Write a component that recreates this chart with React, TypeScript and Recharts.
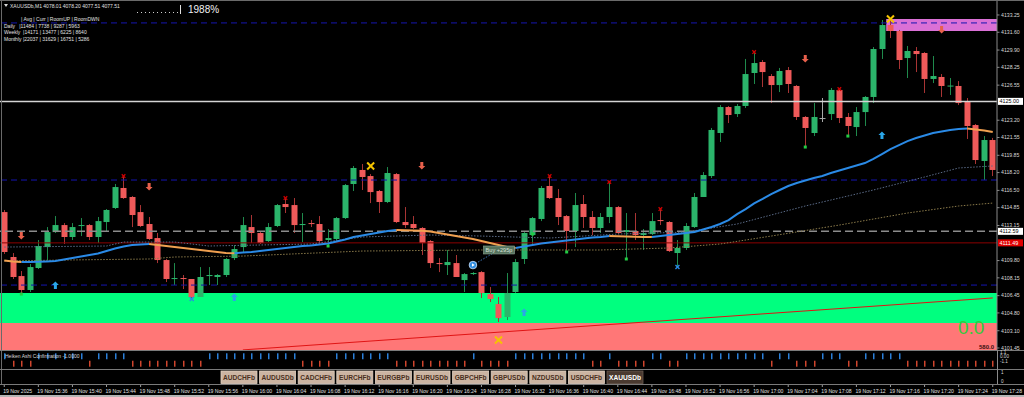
import React from "react"
import { ComposedChart, Bar, Line, XAxis, YAxis, ReferenceLine, ReferenceArea, ReferenceDot } from "recharts"

const FONT = "'Liberation Sans', Arial, sans-serif"

// one M1 bar per minute, 15:32 .. 17:28
const minutes = Array.from({ length: 117 }, (_, i) => {
  const m = 32 + i
  return `${15 + Math.floor(m / 60)}:${String(m % 60).padStart(2, "0")}`
})

const tickLabels = [
  "19 Nov 2025", "19 Nov 15:36", "19 Nov 15:40", "19 Nov 15:44", "19 Nov 15:48", "19 Nov 15:52",
  "19 Nov 15:56", "19 Nov 16:00", "19 Nov 16:04", "19 Nov 16:08", "19 Nov 16:12", "19 Nov 16:16",
  "19 Nov 16:20", "19 Nov 16:24", "19 Nov 16:28", "19 Nov 16:32", "19 Nov 16:36", "19 Nov 16:40",
  "19 Nov 16:44", "19 Nov 16:48", "19 Nov 16:52", "19 Nov 16:56", "19 Nov 17:00", "19 Nov 17:04",
  "19 Nov 17:08", "19 Nov 17:12", "19 Nov 17:16", "19 Nov 17:20", "19 Nov 17:24", "19 Nov 17:28",
]

const opens = [
  4114.43, 4110.14, 4108.32, 4106.99, 4109.09, 4111.09, 4112.52, 4113.19, 4112.05, 4113.10,
  4113.19, 4112.05, 4113.48, 4114.82, 4116.73, 4115.87, 4114.43, 4113.29, 4111.95, 4109.85,
  4108.04, 4108.13, 4108.04, 4106.32, 4108.32, 4108.23, 4108.42, 4110.04, 4111.09, 4113.00,
  4112.43, 4111.66, 4113.10, 4115.20, 4115.10, 4113.19, 4113.38, 4113.29, 4111.76, 4111.86,
  4113.86, 4117.11, 4118.45, 4117.87, 4116.44, 4115.39, 4118.06, 4113.48, 4113.29, 4112.91,
  4111.66, 4109.56, 4109.37, 4109.56, 4107.94, 4108.51, 4108.70, 4106.60, 4105.65, 4104.41,
  4106.80, 4109.95, 4112.24, 4113.77, 4116.92, 4115.77, 4114.05, 4112.62, 4115.20, 4113.96,
  4112.91, 4113.96, 4114.91, 4112.52, 4112.62, 4112.24, 4112.33, 4113.67, 4113.48, 4110.52,
  4111.00, 4113.00, 4115.87, 4117.87, 4121.98, 4124.46, 4123.79, 4124.56, 4127.71, 4128.76,
  4127.42, 4126.56, 4127.99, 4126.47, 4123.51, 4121.98, 4123.41, 4123.79, 4126.09, 4123.51,
  4122.55, 4123.98, 4125.42, 4130.00, 4132.29, 4131.72, 4129.14, 4129.81, 4129.62, 4127.14,
  4127.33, 4126.42, 4126.47, 4124.94, 4122.74, 4119.31, 4121.31,
]
const highs = [
  4114.63, 4110.52, 4108.80, 4109.47, 4111.76, 4113.00, 4114.05, 4113.38, 4113.38, 4113.86,
  4113.29, 4113.96, 4114.72, 4117.11, 4117.78, 4115.96, 4115.10, 4113.96, 4112.43, 4109.95,
  4109.56, 4108.42, 4108.04, 4109.18, 4109.18, 4108.51, 4110.04, 4111.28, 4113.96, 4114.15,
  4112.62, 4113.38, 4115.20, 4115.68, 4115.77, 4114.34, 4113.67, 4114.05, 4112.81, 4113.96,
  4117.11, 4118.83, 4119.02, 4118.06, 4116.54, 4118.73, 4118.16, 4114.91, 4114.05, 4113.00,
  4111.76, 4110.04, 4110.81, 4110.33, 4108.61, 4108.70, 4108.80, 4107.27, 4106.32, 4108.61,
  4109.95, 4112.52, 4113.96, 4116.92, 4117.78, 4116.63, 4114.15, 4116.25, 4116.06, 4114.53,
  4114.34, 4117.30, 4115.01, 4114.34, 4114.34, 4112.81, 4114.34, 4114.82, 4113.57, 4111.76,
  4113.38, 4116.25, 4118.25, 4122.46, 4124.65, 4124.56, 4124.75, 4129.05, 4129.62, 4128.95,
  4127.61, 4128.19, 4128.28, 4126.56, 4123.60, 4124.84, 4125.32, 4126.28, 4126.28, 4123.89,
  4124.46, 4125.51, 4130.19, 4132.77, 4132.77, 4131.82, 4130.29, 4130.19, 4129.71, 4129.33,
  4127.61, 4127.23, 4126.94, 4125.32, 4122.84, 4121.69, 4121.51,
]
const lows = [
  4110.43, 4108.04, 4106.70, 4106.80, 4108.99, 4109.85, 4112.43, 4111.38, 4111.76, 4112.14,
  4111.76, 4111.47, 4112.62, 4114.72, 4115.68, 4113.00, 4113.00, 4111.76, 4109.56, 4107.75,
  4107.46, 4107.08, 4106.13, 4106.32, 4107.46, 4107.46, 4108.23, 4109.85, 4110.62, 4111.47,
  4111.38, 4111.57, 4113.00, 4114.34, 4112.43, 4111.57, 4113.00, 4111.28, 4111.09, 4111.76,
  4113.77, 4116.44, 4116.54, 4115.29, 4114.34, 4115.29, 4113.38, 4112.91, 4112.81, 4110.33,
  4109.09, 4108.70, 4108.42, 4108.23, 4106.80, 4108.42, 4106.22, 4105.84, 4103.93, 4104.12,
  4106.70, 4109.47, 4111.28, 4113.57, 4115.68, 4113.19, 4110.62, 4111.09, 4112.91, 4112.24,
  4112.43, 4113.38, 4112.33, 4109.95, 4111.76, 4110.81, 4112.24, 4113.19, 4110.62, 4109.18,
  4110.81, 4112.91, 4115.87, 4117.68, 4121.12, 4122.93, 4123.51, 4124.37, 4126.66, 4126.37,
  4124.84, 4125.89, 4125.80, 4123.22, 4120.74, 4121.69, 4123.03, 4123.22, 4122.93, 4121.79,
  4121.69, 4122.65, 4124.84, 4129.05, 4131.05, 4128.09, 4127.23, 4127.80, 4125.80, 4126.75,
  4125.42, 4125.61, 4124.65, 4121.41, 4119.02, 4117.49, 4117.87,
]
const closes = [
  4110.62, 4108.23, 4106.99, 4109.18, 4111.19, 4112.52, 4113.19, 4112.05, 4113.00, 4113.19,
  4112.05, 4113.57, 4114.63, 4116.82, 4115.77, 4114.15, 4113.10, 4111.86, 4109.85, 4108.04,
  4108.13, 4108.04, 4106.32, 4108.23, 4108.42, 4108.42, 4109.95, 4110.90, 4113.19, 4112.43,
  4111.47, 4113.00, 4115.10, 4114.91, 4113.19, 4113.29, 4113.29, 4111.66, 4111.95, 4113.86,
  4117.01, 4118.64, 4117.78, 4116.34, 4115.39, 4118.16, 4113.48, 4113.19, 4112.91, 4111.47,
  4109.56, 4109.47, 4109.66, 4108.23, 4108.51, 4108.61, 4106.70, 4106.13, 4104.31, 4106.70,
  4109.66, 4112.43, 4113.86, 4116.73, 4115.77, 4113.96, 4112.62, 4115.10, 4113.96, 4112.91,
  4113.96, 4114.91, 4112.43, 4112.71, 4112.24, 4112.43, 4113.57, 4113.57, 4110.71, 4111.00,
  4113.10, 4115.87, 4117.97, 4122.27, 4124.46, 4123.70, 4124.56, 4127.61, 4128.66, 4127.80,
  4126.56, 4127.90, 4126.66, 4123.51, 4122.46, 4123.51, 4123.41, 4126.09, 4123.41, 4122.65,
  4123.98, 4125.42, 4130.00, 4132.29, 4131.72, 4128.95, 4129.81, 4129.52, 4127.14, 4127.42,
  4126.47, 4126.51, 4124.84, 4122.65, 4119.40, 4121.31, 4118.45,
]

// fast MA, drawn blue when rising and orange when falling
const ma = [
  4109.80, 4109.71, 4109.66, 4109.67, 4109.69, 4109.72, 4109.76, 4109.90, 4110.04, 4110.18,
  4110.33, 4110.47, 4110.71, 4110.95, 4111.14, 4111.28, 4111.33, 4111.38, 4111.28, 4111.19,
  4111.09, 4111.00, 4110.90, 4110.81, 4110.71, 4110.62, 4110.52, 4110.50, 4110.57, 4110.62,
  4110.71, 4110.81, 4110.90, 4111.00, 4111.09, 4111.19, 4111.23, 4111.33, 4111.43, 4111.62,
  4111.81, 4112.05, 4112.19, 4112.33, 4112.48, 4112.62, 4112.71, 4112.69, 4112.67, 4112.64,
  4112.57, 4112.43, 4112.29, 4112.14, 4112.00, 4111.86, 4111.66, 4111.47, 4111.28, 4111.09,
  4111.00, 4111.14, 4111.28, 4111.43, 4111.52, 4111.62, 4111.71, 4111.81, 4111.90, 4112.00,
  4112.05, 4112.14, 4112.12, 4112.10, 4112.08, 4112.06, 4112.05, 4112.14, 4112.24, 4112.33,
  4112.43, 4112.52, 4112.76, 4113.00, 4113.29, 4113.67, 4114.24, 4114.72, 4115.25, 4115.68,
  4116.15, 4116.54, 4116.92, 4117.20, 4117.44, 4117.68, 4117.87, 4118.16, 4118.40, 4118.64,
  4118.87, 4119.11, 4119.50, 4119.97, 4120.45, 4120.83, 4121.21, 4121.50, 4121.74, 4121.98,
  4122.12, 4122.27, 4122.36, 4122.41, 4122.31, 4122.22, 4122.07,
]

// slower averages, read at a few bars: [bar, price]
const midKnots: [number, number][] = [
  [0, 4111.09], [12, 4111.19], [14, 4111.57], [20, 4111.57], [24, 4111.19], [36, 4111.38],
  [42, 4112.05], [50, 4112.24], [56, 4112.14], [64, 4111.95], [72, 4112.33], [80, 4112.52],
  [86, 4113.29], [94, 4115.01], [97, 4115.58], [102, 4116.54], [108, 4117.78], [112, 4118.64], [116, 4118.83],
]
const slowKnots: [number, number][] = [
  [0, 4109.76], [7, 4109.85], [17, 4109.95], [20, 4110.14], [28, 4110.23], [42, 4110.71],
  [56, 4110.81], [70, 4110.81], [78, 4111.00], [84, 4111.38], [90, 4112.14], [98, 4113.19],
  [106, 4114.34], [112, 4115.01], [116, 4115.29],
]

const downArrows: [number, number][] = [[2, 4112.14], [17, 4116.82], [49, 4118.83], [94, 4129.05], [110, 4131.82]]
const upArrows: [number, number][] = [[6, 4107.46], [27, 4106.32], [61, 4104.88], [103, 4121.79]]
const yellowCrosses: [number, number][] = [[43, 4118.83], [58, 4102.21], [104, 4132.87]]
const redCrosses: [number, number][] = [[14, 4117.87], [33, 4115.77], [64, 4117.87], [71, 4117.30], [77, 4114.72], [88, 4129.71], [98, 4126.18]]
const greenSquares: [number, number][] = [[2, 4106.60], [38, 4111.19], [62, 4112.33], [66, 4110.62], [73, 4109.95], [94, 4120.64], [99, 4121.69]]
const blueCrosses: [number, number][] = [[22, 4106.13], [79, 4109.18]]

// Heiken Ashi confirmation: 1 = up (blue), -1 = down (red)
const haDir = [
  1, -1, -1, -1, 1, 1, 1, 1, 1, 1,
  -1, 1, 1, 1, 1, -1, -1, -1, -1, -1,
  -1, -1, -1, -1, 1, 1, 1, 1, 1, 1,
  1, 1, 1, 1, 1, -1, -1, -1, -1, 1,
  1, 1, 1, 1, 1, 1, -1, -1, -1, -1,
  -1, -1, -1, -1, -1, 1, -1, -1, -1, -1,
  1, 1, 1, 1, 1, 1, 1, 1, 1, -1,
  -1, 1, -1, -1, -1, -1, 1, 1, -1, -1,
  1, 1, 1, 1, 1, 1, 1, 1, 1, 1,
  -1, 1, 1, -1, -1, -1, 1, 1, 1, -1,
  -1, 1, 1, 1, 1, 1, -1, -1, -1, -1,
  -1, -1, -1, -1, -1, -1, -1,
]
const haUpLevel = [0.09, 0.82]
const haDnLevel = [-0.82, -0.09]

const priceTicks = [
  4133.25, 4131.6, 4129.9, 4128.25, 4126.55, 4123.2, 4121.55, 4119.85, 4118.2, 4116.5,
  4114.85, 4113.15, 4109.8, 4108.15, 4106.45, 4104.8, 4103.1, 4101.45,
]
const priceTags = [
  { price: 4125.0, bg: "#ffffff", fg: "#000000" },
  { price: 4112.59, bg: "#ffffff", fg: "#000000" },
  { price: 4111.49, bg: "#e00000", fg: "#ffffff" },
]

const statsHeader = "| Avg | Curr | RoomUP | RoomDWN"
const statsRows = [
  "Daily   |11484 | 7738 | 9287 | 5963",
  "Weekly  |14171 | 13477 | 6225 | 8640",
  "Monthly |22037 | 31629 | 16751 | 5286",
]
const symbols = ["AUDCHFb", "AUDUSDb", "CADCHFb", "EURCHFb", "EURGBPb", "EURUSDb", "GBPCHFb", "GBPUSDb", "NZDUSDb", "USDCHFb", "XAUUSDb"]

const pick = (list: [number, number][], i: number) => {
  const f = list.find((m) => m[0] === i)
  return f ? f[1] : null
}
const rising = (i: number) => i > 0 && i < ma.length && ma[i] > ma[i - 1]
const falling = (i: number) => i > 0 && i < ma.length && ma[i] < ma[i - 1]

const rows = minutes.map((t, i) => ({
  t,
  o: opens[i],
  h: highs[i],
  l: lows[i],
  c: closes[i],
  range: [lows[i], highs[i]],
  maBlue: rising(i) || rising(i + 1) ? ma[i] : null,
  maOrange: falling(i) || falling(i + 1) ? ma[i] : null,
  mid: pick(midKnots, i),
  slow: pick(slowKnots, i),
  dn: pick(downArrows, i),
  up: pick(upArrows, i),
  yx: pick(yellowCrosses, i),
  rx: pick(redCrosses, i),
  gs: pick(greenSquares, i),
  bx: pick(blueCrosses, i),
  ha: haDir[i] > 0 ? haUpLevel : haDnLevel,
  dir: haDir[i],
}))

const tickCats = minutes.filter((_, i) => i % 4 === 0)
const tickMap: Record<string, string> = {}
tickCats.forEach((c, k) => (tickMap[c] = tickLabels[k]))

const Candle = (p: any) => {
  const { x, y, width, height, payload } = p
  if (x == null || y == null || !payload) return <g />
  const { o, h, l, c } = payload
  const top = Math.min(y, y + height)
  const span = Math.abs(height)
  const py = (v: number) => top + ((h - v) / (h - l || 1)) * span
  const flat = o === c
  const up = c > o
  const body = flat ? "#a8a8a8" : up ? "#2bb56b" : "#ef5a5a"
  const wick = flat ? "#a8a8a8" : up ? "#1f8a4c" : "#a83434"
  const cx = Math.round(x + width / 2)
  const bt = py(Math.max(o, c))
  const bb = py(Math.min(o, c))
  return (
    <g>
      <line x1={cx + 0.5} x2={cx + 0.5} y1={top} y2={top + span} stroke={wick} strokeWidth={1} />
      <rect x={cx - 2.5} y={bt} width={6} height={Math.max(1, bb - bt)} fill={body} />
    </g>
  )
}

const DownArrow = ({ cx, cy }: any) => (
  <polygon points={`${cx - 1.5},${cy - 4} ${cx + 1.5},${cy - 4} ${cx + 1.5},${cy} ${cx + 3.5},${cy} ${cx},${cy + 3.5} ${cx - 3.5},${cy} ${cx - 1.5},${cy}`} fill="#e8604c" />
)
const UpArrow = ({ cx, cy }: any) => (
  <polygon points={`${cx - 1.5},${cy + 4} ${cx + 1.5},${cy + 4} ${cx + 1.5},${cy} ${cx + 3.5},${cy} ${cx},${cy - 3.5} ${cx - 3.5},${cy} ${cx - 1.5},${cy}`} fill="#2aa6e8" />
)
const Cross = ({ cx, cy, s, color, w }: any) => (
  <g stroke={color} strokeWidth={w}>
    <line x1={cx - s} y1={cy - s} x2={cx + s} y2={cy + s} />
    <line x1={cx - s} y1={cy + s} x2={cx + s} y2={cy - s} />
  </g>
)
const Square = ({ cx, cy }: any) => <rect x={cx - 1.5} y={cy - 1.5} width={3} height={3} fill="#22cc44" />

const markerDot = (render: (cx: number, cy: number) => React.ReactElement) => (p: any) => {
  if (p.cy == null || Number.isNaN(p.cy) || p.value == null) return <g key={p.index} />
  return <g key={p.index}>{render(p.cx, p.cy)}</g>
}

const PriceTick = (p: any) => {
  const v = p.payload.value
  const y = p.y
  const tag = priceTags.find((t) => Math.abs(t.price - v) < 0.001)
  if (tag)
    return (
      <g>
        <rect x={998} y={y - 3.5} width={25} height={7} fill={tag.bg} />
        <text x={999.5} y={y} dy="0.35em" fontSize={5.4} fontFamily={FONT} fill={tag.fg}>{v.toFixed(2)}</text>
      </g>
    )
  return (
    <g>
      <line x1={997} x2={999.5} y1={y} y2={y} stroke="#8a8a8a" />
      <text x={1001} y={y} dy="0.35em" fontSize={5.2} fontFamily={FONT} fill="#d8d8d8">{v.toFixed(2)}</text>
    </g>
  )
}

const TimeTick = (p: any) => {
  const label = tickMap[p.payload.value]
  return (
    <g>
      <line x1={p.x} x2={p.x} y1={385} y2={387} stroke="#9a9a9a" />
      <text x={p.x - 1} y={393} fontSize={5.1} fontFamily={FONT} fill="#e0e0e0">{label}</text>
    </g>
  )
}

const HaBar = (p: any) => {
  const { x, y, width, height, payload } = p
  if (x == null || !payload) return <g />
  const cx = Math.round(x + width / 2)
  return <rect x={cx} y={Math.min(y, y + height)} width={1.5} height={Math.abs(height)} fill={payload.dir > 0 ? "#2a7fd8" : "#d0452c"} />
}

const BuyTag = ({ cx, cy }: any) => (
  <g>
    <rect x={cx - 15} y={cy - 4} width={31} height={8} fill="#56735e" stroke="#8fa896" strokeWidth={0.6} />
    <text x={cx + 0.5} y={cy} dy="0.35em" textAnchor="middle" fontSize={5.6} fontFamily={FONT} fill="#d6e0d8">Buy +295p</text>
  </g>
)
const BuyCircle = ({ cx, cy }: any) => (
  <g>
    <circle cx={cx} cy={cy} r={3.8} fill="#2f8ce0" stroke="#cfe6ff" strokeWidth={0.8} />
    <polygon points={`${cx - 1},${cy - 1.8} ${cx + 1.8},${cy} ${cx - 1},${cy + 1.8}`} fill="#ffffff" />
  </g>
)

export default function App() {
  return (
    <div style={{ position: "relative", width: 1024, height: 397, background: "#000", overflow: "hidden" }}>
      <style>{"body{margin:0;background:#000}"}</style>
      <div style={{ position: "absolute", left: 0, top: 0 }}>
        <ComposedChart width={1024} height={397} data={rows} margin={{ top: 0, right: 0, bottom: 0, left: 0 }}>
          <XAxis dataKey="t" height={47} ticks={tickCats} interval={0} tick={<TimeTick />} axisLine={false} tickLine={false} />
          <YAxis
            orientation="right"
            width={27}
            type="number"
            domain={[4101.26, 4134.68]}
            allowDataOverflow
            ticks={[...priceTicks, ...priceTags.map((t) => t.price)]}
            interval={0}
            tick={<PriceTick />}
            tickLine={false}
            axisLine={{ stroke: "#8a8a8a" }}
          />
          <ReferenceArea y1={4103.83} y2={4106.7} fill="#00ff7f" fillOpacity={1} stroke="none" />
          <ReferenceArea y1={4101.26} y2={4103.83} fill="#ff7777" fillOpacity={1} stroke="none" />
          <ReferenceArea x1={minutes[104]} y1={4131.72} y2={4132.87} fill="#da70d6" fillOpacity={1} stroke="none" />
          <ReferenceLine y={4132.49} stroke="#1515b0" strokeDasharray="6 4" />
          <ReferenceLine y={4117.49} stroke="#1515b0" strokeDasharray="6 4" />
          <ReferenceLine y={4107.46} stroke="#1515b0" strokeDasharray="6 4" />
          <ReferenceLine y={4125.0} stroke="#d4d4d4" strokeWidth={1.5} />
          <ReferenceLine y={4112.59} stroke="#8c8c8c" strokeWidth={1.5} strokeDasharray="8 4" />
          <ReferenceLine y={4111.49} stroke="#8b0000" strokeWidth={1} />
          <ReferenceLine segment={[{ x: minutes[28], y: 4101.27 }, { x: minutes[116], y: 4106.23 }]} stroke="#e01414" strokeWidth={1} />
          <ReferenceLine segment={[{ x: minutes[55], y: 4109.37 }, { x: minutes[58], y: 4110.81 }]} stroke="#3a72b0" strokeDasharray="1.5 1.5" />
          <Line dataKey="slow" stroke="#8a7a4a" strokeWidth={1} strokeDasharray="1.5 1.5" dot={false} connectNulls isAnimationActive={false} activeDot={false} />
          <Line dataKey="mid" stroke="#5a6a86" strokeWidth={1} strokeDasharray="1.5 1.5" dot={false} connectNulls isAnimationActive={false} activeDot={false} />
          <Bar dataKey="range" barSize={6} shape={(p: any) => <Candle {...p} />} isAnimationActive={false} />
          <Line dataKey="maBlue" stroke="#2a8ae6" strokeWidth={2} dot={false} isAnimationActive={false} activeDot={false} />
          <Line dataKey="maOrange" stroke="#f0a050" strokeWidth={2} dot={false} isAnimationActive={false} activeDot={false} />
          <Line dataKey="dn" stroke="none" isAnimationActive={false} activeDot={false} dot={markerDot((cx, cy) => <DownArrow cx={cx} cy={cy} />)} />
          <Line dataKey="up" stroke="none" isAnimationActive={false} activeDot={false} dot={markerDot((cx, cy) => <UpArrow cx={cx} cy={cy} />)} />
          <Line dataKey="yx" stroke="none" isAnimationActive={false} activeDot={false} dot={markerDot((cx, cy) => <Cross cx={cx} cy={cy} s={3.5} w={2} color="#f5c400" />)} />
          <Line dataKey="rx" stroke="none" isAnimationActive={false} activeDot={false} dot={markerDot((cx, cy) => <Cross cx={cx} cy={cy} s={1.8} w={1.3} color="#d00000" />)} />
          <Line dataKey="gs" stroke="none" isAnimationActive={false} activeDot={false} dot={markerDot((cx, cy) => <Square cx={cx} cy={cy} />)} />
          <Line dataKey="bx" stroke="none" isAnimationActive={false} activeDot={false} dot={markerDot((cx, cy) => <Cross cx={cx} cy={cy} s={2} w={1.3} color="#2a8ae6" />)} />
          <ReferenceDot x={minutes[55]} y={4109.37} r={4} shape={(p: any) => <BuyCircle {...p} />} />
          <ReferenceDot x={minutes[58]} y={4110.81} r={4} shape={(p: any) => <BuyTag {...p} />} />
        </ComposedChart>
      </div>

      <div style={{ position: "absolute", left: 0, top: 351 }}>
        <ComposedChart width={1024} height={18} data={rows} margin={{ top: 0, right: 27, bottom: 0, left: 0 }}>
          <XAxis dataKey="t" hide />
          <YAxis hide type="number" domain={[-1.1, 1.1]} />
          <Bar dataKey="ha" barSize={2} shape={(p: any) => <HaBar {...p} />} isAnimationActive={false} />
        </ComposedChart>
      </div>

      <svg width={1024} height={397} style={{ position: "absolute", left: 0, top: 0, pointerEvents: "none" }} fontFamily={FONT}>
        <line x1={0} x2={1024} y1={0.5} y2={0.5} stroke="#6a6a6a" />
        <line x1={1.5} x2={1.5} y1={0} y2={384} stroke="#6a6a6a" />
        <line x1={0} x2={1024} y1={350.5} y2={350.5} stroke="#7a7a7a" />
        <line x1={0} x2={1024} y1={369.5} y2={369.5} stroke="#7a7a7a" />
        <line x1={0} x2={1024} y1={384.5} y2={384.5} stroke="#7a7a7a" />
        <line x1={997.5} x2={997.5} y1={350} y2={384} stroke="#8a8a8a" />
        <rect x={0} y={395} width={1024} height={2} fill="#b4b4b4" />

        <polygon points="4,4 8,4 6,7" fill="#d8d8d8" />
        <text x={10} y={7.5} fontSize={5} fill="#e0e0e0">XAUUSDb,M1  4078.01 4078.20 4077.51 4077.51</text>
        <line x1={137} x2={178} y1={12.5} y2={12.5} stroke="#d0d0d0" strokeDasharray="1 3" />
        <line x1={180.5} x2={180.5} y1={5} y2={14} stroke="#e0e0e0" />
        <text x={188} y={13} fontSize={10} fill="#f0f0f0">1988%</text>
        <text x={21} y={21} fontSize={5} fill="#e0e0e0">{statsHeader}</text>
        {statsRows.map((r, k) => (
          <text key={r} x={4} y={27.5 + k * 6.8} fontSize={5} fill="#e0e0e0" style={{ whiteSpace: "pre" }}>{r}</text>
        ))}

        <text x={958} y={334} fontSize={19} fill="#34c83c">0.0</text>
        <text x={979} y={349} fontSize={6} fontWeight="bold" fill="#3a1010">580.0</text>

        <text x={5} y={358} fontSize={5} fill="#d8d8d8">Heiken Ashi Confirmation -1.0000</text>
        <text x={1000} y={354} fontSize={4.6} fill="#d8d8d8">1.1</text>
        <text x={1000} y={358} fontSize={4.6} fill="#d8d8d8">0.00</text>
        <text x={1000} y={362.5} fontSize={4.6} fill="#d8d8d8">-1.1</text>
        <text x={1001} y={374} fontSize={4.6} fill="#d8d8d8">1</text>
        <text x={1001} y={382.5} fontSize={4.6} fill="#d8d8d8">0</text>

        {symbols.map((s, k) => {
          const x0 = 221 + k * 38.6
          const last = k === symbols.length - 1
          return (
            <g key={s}>
              <rect x={x0} y={371} width={36} height={12.5} fill={last ? "#4a3a30" : "#cbb4a2"} stroke={last ? "#6a5a50" : "#e2d2c4"} strokeWidth={0.8} />
              <text x={x0 + 18} y={380} textAnchor="middle" fontSize={6.6} fontWeight="bold" fill={last ? "#ffffff" : "#4a3020"}>{s}</text>
            </g>
          )
        })}
      </svg>
    </div>
  )
}
